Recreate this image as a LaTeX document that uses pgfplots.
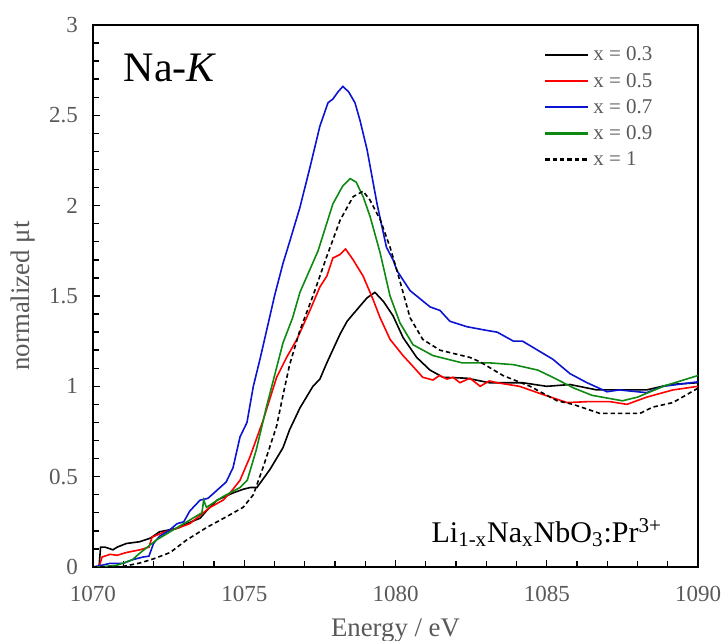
\documentclass[border=0pt]{standalone}
\usepackage{pgfplots}
\pgfplotsset{compat=1.18}
\usepackage{fontspec}
\setmainfont{Liberation Serif}
\definecolor{txtgray}{HTML}{595959}
\definecolor{cblue}{HTML}{0A14D2}
\definecolor{cgreen}{HTML}{0E8A12}
\definecolor{cred}{HTML}{FF1A1A}
\newcommand{\legtxt}[1]{\textcolor{txtgray}{#1}}

\begin{document}
\begin{tikzpicture}
\begin{axis}[
  scale only axis,
  width=302.5pt, height=271pt,
  xmin=1070, xmax=1090, ymin=0, ymax=3,
  xtick={1070,1075,...,1090}, ytick={0,0.5,...,3},
  minor x tick num=4, minor y tick num=4,
  tick pos=left, tick align=inside,
  major tick length=3.5pt, minor tick length=3pt,
  axis line style={line width=0.9pt},
  every tick/.style={black, line width=0.7pt},
  tick label style={font=\fontsize{11.5}{13}\selectfont, text=txtgray},
  /pgf/number format/1000 sep={},
  xticklabel={\pgfmathprintnumber[assume math mode=true]{\tick}},
  yticklabel={\pgfmathprintnumber[assume math mode=true]{\tick}},
  xticklabel style={yshift=-6pt},
  yticklabel style={xshift=-4pt},
  xlabel={Energy / eV}, ylabel={normalized μt},
  xlabel style={yshift=-2pt},
  label style={font=\fontsize{13.4}{15}\selectfont, text=txtgray},
  legend style={at={(rel axis cs:0.735,0.975)}, anchor=north west,
    draw=none, fill=none, font=\fontsize{10.5}{12}\selectfont,
    row sep=0.6pt},
  legend cell align=left,
  legend image code/.code={\draw[#1, line width=1.1pt] (0pt,0.25pt) -- (21.5pt,0.25pt);},
]
\addplot[black, line width=0.8pt] coordinates {
(1070.0,0.0)(1070.2,0.0)(1070.25,0.11)(1070.4,0.11)(1070.66,0.095)(1070.8,0.11)
(1071.1,0.13)(1071.55,0.14)(1071.9,0.16)(1072.2,0.195)(1072.8,0.215)(1073.1,0.24)
(1073.54,0.27)(1073.8,0.32)(1074.1,0.37)(1074.63,0.41)(1074.96,0.43)(1075.2,0.44)
(1075.42,0.44)(1075.85,0.54)(1076.28,0.66)(1076.5,0.76)(1076.84,0.88)(1077.27,1.0)
(1077.5,1.04)(1077.73,1.13)(1078.17,1.29)(1078.4,1.36)(1078.6,1.40)(1079.06,1.49)
(1079.32,1.52)(1079.6,1.47)(1079.92,1.39)(1080.25,1.27)(1080.7,1.16)(1081.14,1.09)
(1081.57,1.05)(1082.36,1.045)(1083.1,1.02)(1084.2,1.02)(1085.0,1.0)(1085.77,1.01)
(1086.66,0.98)(1087.75,0.98)(1088.3,0.98)(1089.07,1.01)(1090,1.02)};
\addlegendentry{\legtxt{x = 0.3}}
\addplot[red, line width=0.8pt] coordinates {
(1070,0.0)(1070.2,0.0)(1070.3,0.055)(1070.56,0.07)(1070.8,0.065)(1071.1,0.08)
(1071.55,0.095)(1071.85,0.11)(1071.95,0.165)(1072.3,0.19)(1072.8,0.215)(1073.2,0.24)
(1073.5,0.28)(1073.87,0.33)(1074.3,0.37)(1074.53,0.41)(1074.86,0.48)(1075.19,0.61)
(1075.62,0.81)(1076.07,1.05)(1076.4,1.16)(1076.74,1.26)(1077.17,1.42)(1077.5,1.55)
(1077.73,1.61)(1077.93,1.71)(1078.17,1.73)(1078.35,1.76)(1078.6,1.70)(1078.93,1.61)
(1079.26,1.48)(1079.49,1.38)(1079.82,1.26)(1080.25,1.17)(1080.58,1.11)(1080.9,1.05)
(1081.24,1.035)(1081.45,1.06)(1081.7,1.04)(1081.9,1.05)(1082.13,1.02)(1082.46,1.045)
(1082.8,1.0)(1083.1,1.03)(1083.36,1.02)(1084.1,1.0)(1084.78,0.96)(1085.67,0.91)
(1086.33,0.915)(1087.1,0.915)(1087.65,0.90)(1088.3,0.94)(1089.17,0.98)(1090,1.0)};
\addlegendentry{\legtxt{x = 0.5}}
\addplot[cblue, line width=0.8pt] coordinates {
(1070,0.0)(1070.3,0.01)(1070.56,0.02)(1071.0,0.02)(1071.3,0.04)(1071.65,0.055)
(1071.85,0.06)(1072.0,0.13)(1072.2,0.17)(1072.5,0.20)(1072.78,0.24)(1073.0,0.25)
(1073.2,0.31)(1073.54,0.37)(1073.8,0.38)(1074.2,0.44)(1074.4,0.47)(1074.63,0.55)
(1074.86,0.72)(1075.09,0.80)(1075.3,1.0)(1075.52,1.15)(1075.85,1.39)(1076.0,1.50)
(1076.28,1.68)(1076.5,1.80)(1076.84,1.99)(1077.17,2.21)(1077.5,2.44)(1077.77,2.57)
(1077.93,2.59)(1078.1,2.63)(1078.26,2.66)(1078.45,2.63)(1078.66,2.57)(1078.83,2.47)
(1079.06,2.31)(1079.39,2.01)(1079.7,1.77)(1079.92,1.70)(1080.05,1.64)(1080.48,1.53)
(1081.14,1.44)(1081.47,1.42)(1081.8,1.36)(1082.36,1.33)(1083.0,1.31)(1083.36,1.30)
(1083.9,1.25)(1084.2,1.25)(1084.7,1.20)(1085.2,1.15)(1085.77,1.07)(1086.33,1.02)
(1086.99,0.97)(1087.4,0.98)(1088.3,0.965)(1088.85,1.0)(1090,1.025)};
\addlegendentry{\legtxt{x = 0.7}}
\addplot[cgreen, line width=0.8pt] coordinates {
(1070,0.0)(1070.2,0.0)(1070.8,0.01)(1071.3,0.04)(1071.55,0.077)(1072.1,0.15)
(1072.8,0.22)(1073.4,0.28)(1073.6,0.30)(1073.66,0.37)(1073.75,0.33)(1074.3,0.39)
(1074.86,0.44)(1075.1,0.48)(1075.4,0.65)(1075.74,0.89)(1076.28,1.24)(1076.6,1.38)
(1076.84,1.52)(1077.44,1.75)(1077.93,2.01)(1078.26,2.11)(1078.5,2.15)(1078.7,2.13)
(1078.93,2.05)(1079.16,1.94)(1079.49,1.74)(1079.82,1.50)(1080.15,1.35)(1080.58,1.23)
(1081.24,1.17)(1082.2,1.13)(1083.1,1.13)(1083.9,1.12)(1084.7,1.09)(1085.2,1.05)
(1085.9,0.99)(1086.5,0.95)(1087.5,0.92)(1088.0,0.94)(1088.85,1.0)(1090,1.06)};
\addlegendentry{\legtxt{x = 0.9}}
\addplot[black, line width=0.8pt, dash pattern=on 2.2pt off 1.5pt] coordinates {
(1070,0.0)(1070.9,0.0)(1071.55,0.022)(1072.0,0.045)(1072.55,0.08)(1073.1,0.15)
(1073.77,0.22)(1074.43,0.28)(1074.96,0.33)(1075.3,0.40)(1075.62,0.55)(1076.07,0.78)
(1076.28,0.95)(1076.5,1.12)(1076.84,1.31)(1077.27,1.5)(1077.73,1.72)(1078.17,1.92)
(1078.6,2.05)(1078.93,2.08)(1079.16,2.03)(1079.5,1.92)(1079.82,1.77)(1080.05,1.64)
(1080.25,1.52)(1080.48,1.38)(1080.9,1.26)(1081.47,1.20)(1082.46,1.16)(1082.8,1.135)
(1083.55,1.06)(1084.45,1.0)(1085.34,0.92)(1085.87,0.90)(1086.76,0.85)(1088.08,0.85)
(1088.5,0.885)(1089.17,0.91)(1090,0.99)};
\addlegendentry{\legtxt{x = 1}}
\node[font=\fontsize{21}{24}\selectfont] at (axis cs:1072.55,2.76) {Na-\textit{K}};
\node[font=\fontsize{15}{18}\selectfont] at (axis cs:1085.0,0.19)
  {Li\textsubscript{1-x}Na\textsubscript{x}NbO\textsubscript{3}:Pr\textsuperscript{3+}};
\end{axis}
\pgfresetboundingbox
\path[use as bounding box] (-46.5pt,-37pt) rectangle (315pt,283.5pt);
\end{tikzpicture}
\end{document}
